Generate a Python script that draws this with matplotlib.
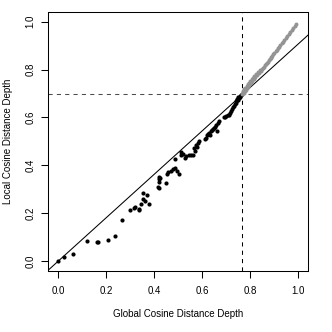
import matplotlib
matplotlib.use('Agg')
import matplotlib.pyplot as plt

plt.rcParams['font.family'] = ['Liberation Sans', 'DejaVu Sans']

# black points: below the cut-off
black_x = [0.000, 0.024, 0.063, 0.121, 0.164, 0.165, 0.210, 0.236, 0.267, 0.302,
           0.316, 0.321, 0.338, 0.339, 0.346, 0.354, 0.356, 0.364, 0.372, 0.379,
           0.418, 0.421, 0.421, 0.427, 0.422, 0.421, 0.451, 0.456, 0.460, 0.472,
           0.479, 0.488, 0.486, 0.495, 0.504, 0.511, 0.514, 0.522, 0.528, 0.533,
           0.545, 0.556, 0.563, 0.567, 0.572, 0.576, 0.580, 0.583, 0.588, 0.612,
           0.615, 0.620, 0.624, 0.628, 0.633, 0.636, 0.641, 0.646, 0.650, 0.655,
           0.660, 0.662, 0.667, 0.672, 0.690, 0.695, 0.700, 0.706, 0.711, 0.715,
           0.720, 0.725, 0.729, 0.733, 0.737, 0.740, 0.743, 0.747, 0.750, 0.754,
           0.757, 0.760, 0.763, 0.766, 0.750, 0.744]
black_y = [0.000, 0.019, 0.029, 0.085, 0.080, 0.083, 0.089, 0.107, 0.173, 0.213,
           0.224, 0.227, 0.220, 0.215, 0.238, 0.285, 0.262, 0.252, 0.278, 0.238,
           0.312, 0.329, 0.343, 0.349, 0.308, 0.350, 0.327, 0.364, 0.371, 0.375,
           0.385, 0.390, 0.427, 0.379, 0.365, 0.456, 0.442, 0.449, 0.431, 0.440,
           0.443, 0.442, 0.442, 0.473, 0.462, 0.485, 0.478, 0.493, 0.500, 0.510,
           0.516, 0.526, 0.532, 0.536, 0.528, 0.545, 0.548, 0.553, 0.556, 0.560,
           0.570, 0.542, 0.579, 0.585, 0.600, 0.603, 0.607, 0.610, 0.612, 0.618,
           0.625, 0.634, 0.642, 0.650, 0.657, 0.662, 0.670, 0.672, 0.675, 0.681,
           0.686, 0.690, 0.694, 0.697, 0.684, 0.678]

# grey points: above the cut-off
grey_x = [0.768, 0.770, 0.772, 0.774, 0.776, 0.778, 0.780, 0.782, 0.785, 0.787,
          0.790, 0.792, 0.795, 0.797, 0.800, 0.803, 0.806, 0.809, 0.812, 0.815,
          0.818, 0.822, 0.825, 0.829, 0.833, 0.837, 0.841, 0.845, 0.849, 0.853,
          0.857, 0.861, 0.865, 0.869, 0.873, 0.877, 0.881, 0.885, 0.889, 0.893,
          0.897, 0.901, 0.906, 0.911, 0.916, 0.921, 0.926, 0.931, 0.937, 0.943,
          0.949, 0.955, 0.961, 0.967, 0.973, 0.979, 0.985, 0.991]
grey_y = [0.700, 0.706, 0.712, 0.704, 0.718, 0.710, 0.724, 0.716, 0.730, 0.722,
          0.738, 0.728, 0.745, 0.736, 0.752, 0.744, 0.760, 0.752, 0.766, 0.760,
          0.772, 0.768, 0.780, 0.776, 0.788, 0.786, 0.796, 0.794, 0.804, 0.806,
          0.812, 0.818, 0.822, 0.828, 0.832, 0.838, 0.842, 0.850, 0.854, 0.858,
          0.864, 0.870, 0.876, 0.882, 0.888, 0.895, 0.902, 0.909, 0.916, 0.924,
          0.932, 0.940, 0.949, 0.957, 0.965, 0.974, 0.982, 0.991]

cut_x = 0.768
cut_y = 0.696
ticks = [0.0, 0.2, 0.4, 0.6, 0.8, 1.0]
tick_labels = ['0.0', '0.2', '0.4', '0.6', '0.8', '1.0']

fig = plt.figure(figsize=(3.32, 3.32), dpi=100)
ax = fig.add_axes([0.1455, 0.1837, 0.7815, 0.7803])

ax.scatter(black_x, black_y, s=9, color='black', linewidths=0, zorder=3)
ax.scatter(grey_x, grey_y, s=8, color='0.58', linewidths=0, zorder=3)

# line through origin and the cut-off point
slope = cut_y / cut_x
ax.plot([-0.1, 1.1], [-0.1 * slope, 1.1 * slope], color='black', lw=0.75)
ax.axvline(cut_x, color='black', lw=0.75, linestyle=(0, (4, 4)))
ax.axhline(cut_y, color='0.3', lw=0.75, linestyle=(0, (4, 4)))

ax.set_xlim(-0.04, 1.04)
ax.set_ylim(-0.04, 1.04)
ax.set_xticks(ticks)
ax.set_xticklabels(tick_labels)
ax.set_yticks(ticks)
ax.set_yticklabels(tick_labels, rotation=90, va='center')
ax.tick_params(direction='out', length=5, width=0.75, labelsize=7)
ax.tick_params(axis='x', pad=6)
ax.tick_params(axis='y', pad=4)
for sp in ax.spines.values():
    sp.set_linewidth(0.75)

ax.set_xlabel('Global Cosine Distance Depth', fontsize=7, labelpad=9)
ax.set_ylabel('Local Cosine Distance Depth', fontsize=7, labelpad=9)

plt.savefig('out.png', dpi=100)
